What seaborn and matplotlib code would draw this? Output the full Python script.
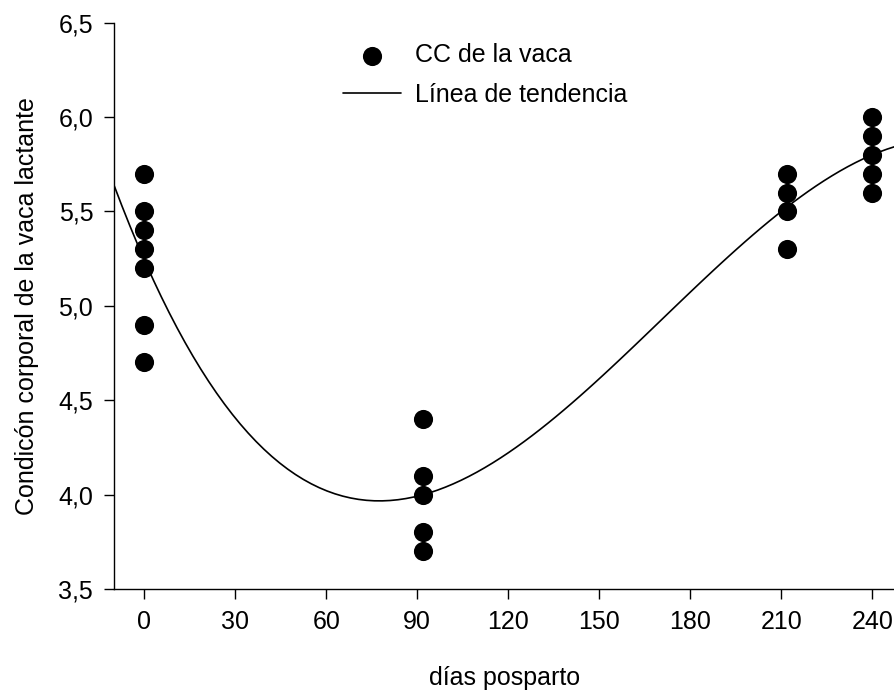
import numpy as np
import pandas as pd
import matplotlib
matplotlib.use('Agg')
import matplotlib.pyplot as plt
import seaborn as sns

# body condition score of lactating cows at each sampling day
dias = [0, 0, 0, 0, 0, 0, 0,
        92, 92, 92, 92, 92,
        212, 212, 212, 212,
        240, 240, 240, 240, 240]
cc = [5.7, 5.5, 5.4, 5.3, 5.2, 4.9, 4.7,
      4.4, 4.1, 4.0, 3.8, 3.7,
      5.7, 5.6, 5.5, 5.3,
      6.0, 5.9, 5.8, 5.7, 5.6]

x_ticks = [0, 30, 60, 90, 120, 150, 180, 210, 240]
y_ticks = [3.5, 4.0, 4.5, 5.0, 5.5, 6.0, 6.5]

df = pd.DataFrame({'dias': dias, 'cc': cc})

sns.set_style('ticks')
plt.rcParams['font.family'] = ['Liberation Sans', 'DejaVu Sans']
plt.rcParams['font.size'] = 18
plt.rcParams['text.color'] = 'black'
plt.rcParams['axes.labelcolor'] = 'black'

fig = plt.figure(figsize=(8.95, 6.91), dpi=100)
ax = fig.add_axes([114 / 895, 1 - 589 / 691, 1 - 114 / 895, (589 - 22.7) / 691])
ax.set_xlim(-10, 247.5)
ax.set_ylim(3.5, 6.5)

sns.scatterplot(data=df, x='dias', y='cc', ax=ax, color='black', s=190,
                edgecolor='black', linewidth=0, label='CC de la vaca', zorder=3)
# cubic trend line, extended over the whole x range
sns.regplot(data=df, x='dias', y='cc', ax=ax, scatter=False, order=3, ci=None,
            truncate=False, color='black', line_kws={'linewidth': 1.2},
            label='Línea de tendencia')

ax.set_xlim(-10, 247.5)
ax.set_ylim(3.5, 6.5)
ax.set_xticks(x_ticks)
ax.set_xticklabels([str(t) for t in x_ticks])
ax.set_yticks(y_ticks)
ax.set_yticklabels([f'{t:.1f}'.replace('.', ',') for t in y_ticks])
ax.tick_params(axis='both', labelsize=18, length=7, width=1, color='black',
               pad=8, labelcolor='black')

ax.set_xlabel('días posparto', fontsize=18, labelpad=23)
ax.set_ylabel('Condicón corporal de la vaca lactante', fontsize=18, labelpad=14)

sns.despine(ax=ax)
for side in ['left', 'bottom']:
    ax.spines[side].set_linewidth(1)
    ax.spines[side].set_color('black')
ax.spines['bottom'].set_clip_on(False)

leg = ax.legend(loc='upper left', bbox_to_anchor=(331 / 895, 1 - 31 / 691),
                bbox_transform=fig.transFigure, frameon=False, fontsize=18,
                handlelength=2.3, handletextpad=0.55, labelspacing=0.6,
                borderpad=0, markerscale=1.0)

fig.savefig('out.png', dpi=100)
plt.close(fig)
